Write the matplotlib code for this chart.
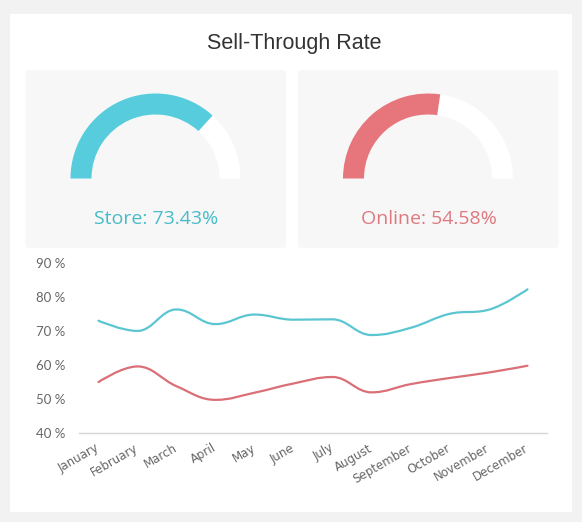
import numpy as np
import matplotlib
matplotlib.use('Agg')
import matplotlib.pyplot as plt
from matplotlib.patches import FancyBboxPatch, Wedge, Rectangle, PathPatch
from matplotlib.path import Path

# ---------------- data ----------------
months = ['January', 'February', 'March', 'April', 'May', 'June', 'July',
          'August', 'September', 'October', 'November', 'December']
store_rate = [73.0, 70.0, 76.3, 72.0, 74.8, 73.3, 73.4, 68.8, 70.9, 75.0, 76.2, 82.2]
online_rate = [55.0, 59.6, 53.8, 49.8, 51.9, 54.6, 56.5, 52.0, 54.4, 56.2, 57.8, 59.8]
gauge_names = ['Store', 'Online']
gauge_values = [73.43, 54.58]
y_ticks = [40, 50, 60, 70, 80, 90]

title = 'Sell-Through Rate'
CYAN = '#57CCDC'
RED = '#E6757C'
CYAN_LINE = '#5BC6D1'
RED_LINE = '#DA6F77'
CYAN_TEXT = '#47BCC8'
RED_TEXT = '#E07880'

W, H = 582, 522
fig = plt.figure(figsize=(W / 100, H / 100), dpi=100, facecolor='#f2f2f2')

# pixel-space background axes (y downwards)
bg = fig.add_axes([0, 0, 1, 1])
bg.set_xlim(0, W)
bg.set_ylim(H, 0)
bg.axis('off')
bg.set_zorder(0)

bg.add_patch(Rectangle((10, 14), 562, 498, facecolor='white', edgecolor='none'))
for x0 in (25.5, 298):
    bg.add_patch(FancyBboxPatch((x0 + 4, 70 + 4), 260.5 - 8, 178 - 8,
                                boxstyle='round,pad=4', facecolor='#f7f7f7',
                                edgecolor='none'))

bg.text(294, 43, title, ha='center', va='center', fontsize=15.5,
        family=['Liberation Sans', 'DejaVu Sans'], color='#333333')

# gauges
centers = [(155.5, 178.5), (428, 178.5)]
colors = [CYAN, RED]
tcolors = [CYAN_TEXT, RED_TEXT]
R, width = 85, 21
for (cx, cy), name, val, col, tcol in zip(centers, gauge_names, gauge_values,
                                          colors, tcolors):
    split = 180 + 180 * val / 100.0
    bg.add_patch(Wedge((cx, cy), R, split, 360, width=width,
                       facecolor='white', edgecolor='none'))
    bg.add_patch(Wedge((cx, cy), R, 180, split, width=width,
                       facecolor=col, edgecolor='none'))
    bg.text(cx + 1, 219, f'{name}: {val:.2f}%', ha='center', va='center',
            fontsize=14, family=['Open Sans', 'DejaVu Sans'], color=tcol)

# ---------------- line chart ----------------
left, right, top, bottom = 79, 547, 262.7, 433.3
ax = fig.add_axes([left / W, 1 - bottom / H, (right - left) / W, (bottom - top) / H])
ax.set_zorder(2)
ax.patch.set_alpha(0)
ax.set_xlim(-0.5, len(months) - 0.5)
ax.set_ylim(40, 90)
for s in ('top', 'right', 'left'):
    ax.spines[s].set_visible(False)
ax.spines['bottom'].set_color('#d6d6d6')
ax.spines['bottom'].set_linewidth(1.0)
ax.set_yticks(y_ticks)
ax.set_yticklabels([f'{t} %' for t in y_ticks], family=['Lato', 'DejaVu Sans'],
                   fontsize=9.5, color='#666666')
ax.set_xticks(range(len(months)))
ax.set_xticklabels(months, rotation=30, ha='right', va='center',
                   rotation_mode='anchor', fontsize=8.5, color='#666666',
                   family=['DejaVu Sans'])
ax.tick_params(axis='both', length=0)
ax.tick_params(axis='y', pad=10)
ax.tick_params(axis='x', pad=10)


def spline_path(xs, ys, smoothing=1.5):
    xs = list(map(float, xs))
    ys = list(map(float, ys))
    n = len(xs)
    denom = smoothing + 1
    lc = [None] * n
    rc = [None] * n
    for i in range(1, n - 1):
        px, py = xs[i], ys[i]
        lx, ly = xs[i - 1], ys[i - 1]
        nx, ny = xs[i + 1], ys[i + 1]
        lcx = (smoothing * px + lx) / denom
        lcy = (smoothing * py + ly) / denom
        rcx = (smoothing * px + nx) / denom
        rcy = (smoothing * py + ny) / denom
        corr = 0.0
        if rcx != lcx:
            corr = (rcy - lcy) * (rcx - px) / (rcx - lcx) + py - rcy
        lcy += corr
        rcy += corr
        if lcy > ly and lcy > py:
            lcy = max(ly, py)
            rcy = 2 * py - lcy
        elif lcy < ly and lcy < py:
            lcy = min(ly, py)
            rcy = 2 * py - lcy
        if rcy > ny and rcy > py:
            rcy = max(ny, py)
            lcy = 2 * py - rcy
        elif rcy < ny and rcy < py:
            rcy = min(ny, py)
            lcy = 2 * py - rcy
        lc[i] = (lcx, lcy)
        rc[i] = (rcx, rcy)
    verts = [(xs[0], ys[0])]
    codes = [Path.MOVETO]
    for i in range(1, n):
        c1 = rc[i - 1] if rc[i - 1] is not None else (xs[i - 1], ys[i - 1])
        c2 = lc[i] if lc[i] is not None else (xs[i], ys[i])
        verts += [c1, c2, (xs[i], ys[i])]
        codes += [Path.CURVE4] * 3
    return Path(verts, codes)


xs = range(len(months))
for vals, col in ((store_rate, CYAN_LINE), (online_rate, RED_LINE)):
    ax.add_patch(PathPatch(spline_path(xs, vals), facecolor='none', edgecolor=col,
                           linewidth=1.6, capstyle='round', joinstyle='round',
                           clip_on=False))

fig.savefig('out.png', dpi=100, facecolor=fig.get_facecolor())
